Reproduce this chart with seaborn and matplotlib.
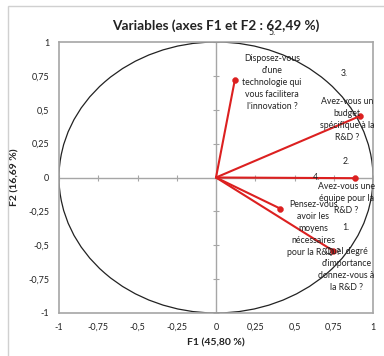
import matplotlib
matplotlib.use("Agg")
import matplotlib.pyplot as plt
import seaborn as sns
import pandas as pd
from matplotlib.patches import Circle, Rectangle

sns.set_theme(style="white")
plt.rcParams['font.family'] = ['Lato', 'DejaVu Sans']

# Data
numbers = ["1.", "2.", "3.", "4.", "5."]
questions = [
    "Quel degré\nd'importance\ndonnez-vous à\nla R&D ?",
    "Avez-vous une\néquipe pour la\nR&D ?",
    "Avez-vous un\nbudget\nspécifique à la\nR&D ?",
    "Pensez-vous\navoir les\nmoyens\nnécessaires\npour la R&D ?",
    "Disposez-vous\nd'une\ntechnologie qui\nvous facilitera\nl'innovation ?",
]
f1 = [0.745, 0.885, 0.92, 0.41, 0.12]
f2 = [-0.54, -0.005, 0.455, -0.23, 0.72]
ticks = [-1, -0.75, -0.5, -0.25, 0, 0.25, 0.5, 0.75, 1]
tick_labels = ["-1", "-0,75", "-0,5", "-0,25", "0", "0,25", "0,5", "0,75", "1"]

# label layout (positions in data coords)
num_pos = [(0.83, -0.37), (0.83, 0.12), (0.82, 0.765), (0.64, 0.0), (0.357, 1.07)]
text_pos = [(0.83, -0.68), (0.83, -0.155), (0.835, 0.43), (0.62, -0.375), (0.357, 0.70)]

df = pd.DataFrame({"F1": f1, "F2": f2})

fig = plt.figure(figsize=(3.84, 3.56), dpi=100)
fig.patches.append(Rectangle((8/384, -0.1), 1.2, 1 - 6/356 + 0.1, transform=fig.transFigure,
                             fill=False, edgecolor="#d0d0d0", linewidth=1.0))
ax = fig.add_axes([59/384, 1 - 313/356, 314/384, 271/356])

red = "#dc2020"
grey = "#a6a6a6"

ax.axhline(0, color=grey, lw=1.0, zorder=1)
ax.axvline(0, color=grey, lw=1.0, zorder=1)
ax.plot(ticks, [0]*len(ticks), ls="none", marker="|", ms=5, mew=0.8, color=grey, zorder=1)
ax.plot([0]*len(ticks), ticks, ls="none", marker="_", ms=5, mew=0.8, color=grey, zorder=1)

ax.add_patch(Circle((0, 0), 1, fill=False, edgecolor="#222222", lw=0.9, zorder=2))

for x, y in zip(f1, f2):
    ax.plot([0, x], [0, y], color=red, lw=1.5, zorder=3)
sns.scatterplot(data=df, x="F1", y="F2", color=red, s=18, edgecolor=red, ax=ax, zorder=4)

fs = 6.3
for n, (x, y) in zip(numbers, num_pos):
    ax.text(x, y, n, fontsize=fs, ha="center", va="center", color="#222222", clip_on=False, zorder=5)
for q, (x, y) in zip(questions, text_pos):
    ax.text(x, y, q, fontsize=fs, ha="center", va="center", color="#222222",
            linespacing=1.45, multialignment="center", clip_on=False, zorder=5)

ax.set_xlim(-1, 1)
ax.set_ylim(-1, 1)
ax.set_xticks(ticks)
ax.set_yticks(ticks)
ax.set_xticklabels(tick_labels)
ax.set_yticklabels(tick_labels)
ax.tick_params(length=0, labelsize=6.5, colors="#222222", pad=7)
for s in ax.spines.values():
    s.set_color(grey)
    s.set_linewidth(1.2)

ax.set_xlabel("F1 (45,80 %)", fontsize=7.5, fontweight="bold", color="#222222", labelpad=5)
ax.set_ylabel("F2 (16,69 %)", fontsize=7.5, fontweight="bold", color="#222222", labelpad=6)
ax.set_title("Variables (axes F1 et F2 : 62,49 %)", fontsize=9.8, fontweight="bold",
             color="#222222", pad=9)

fig.savefig("out.png", dpi=100)
